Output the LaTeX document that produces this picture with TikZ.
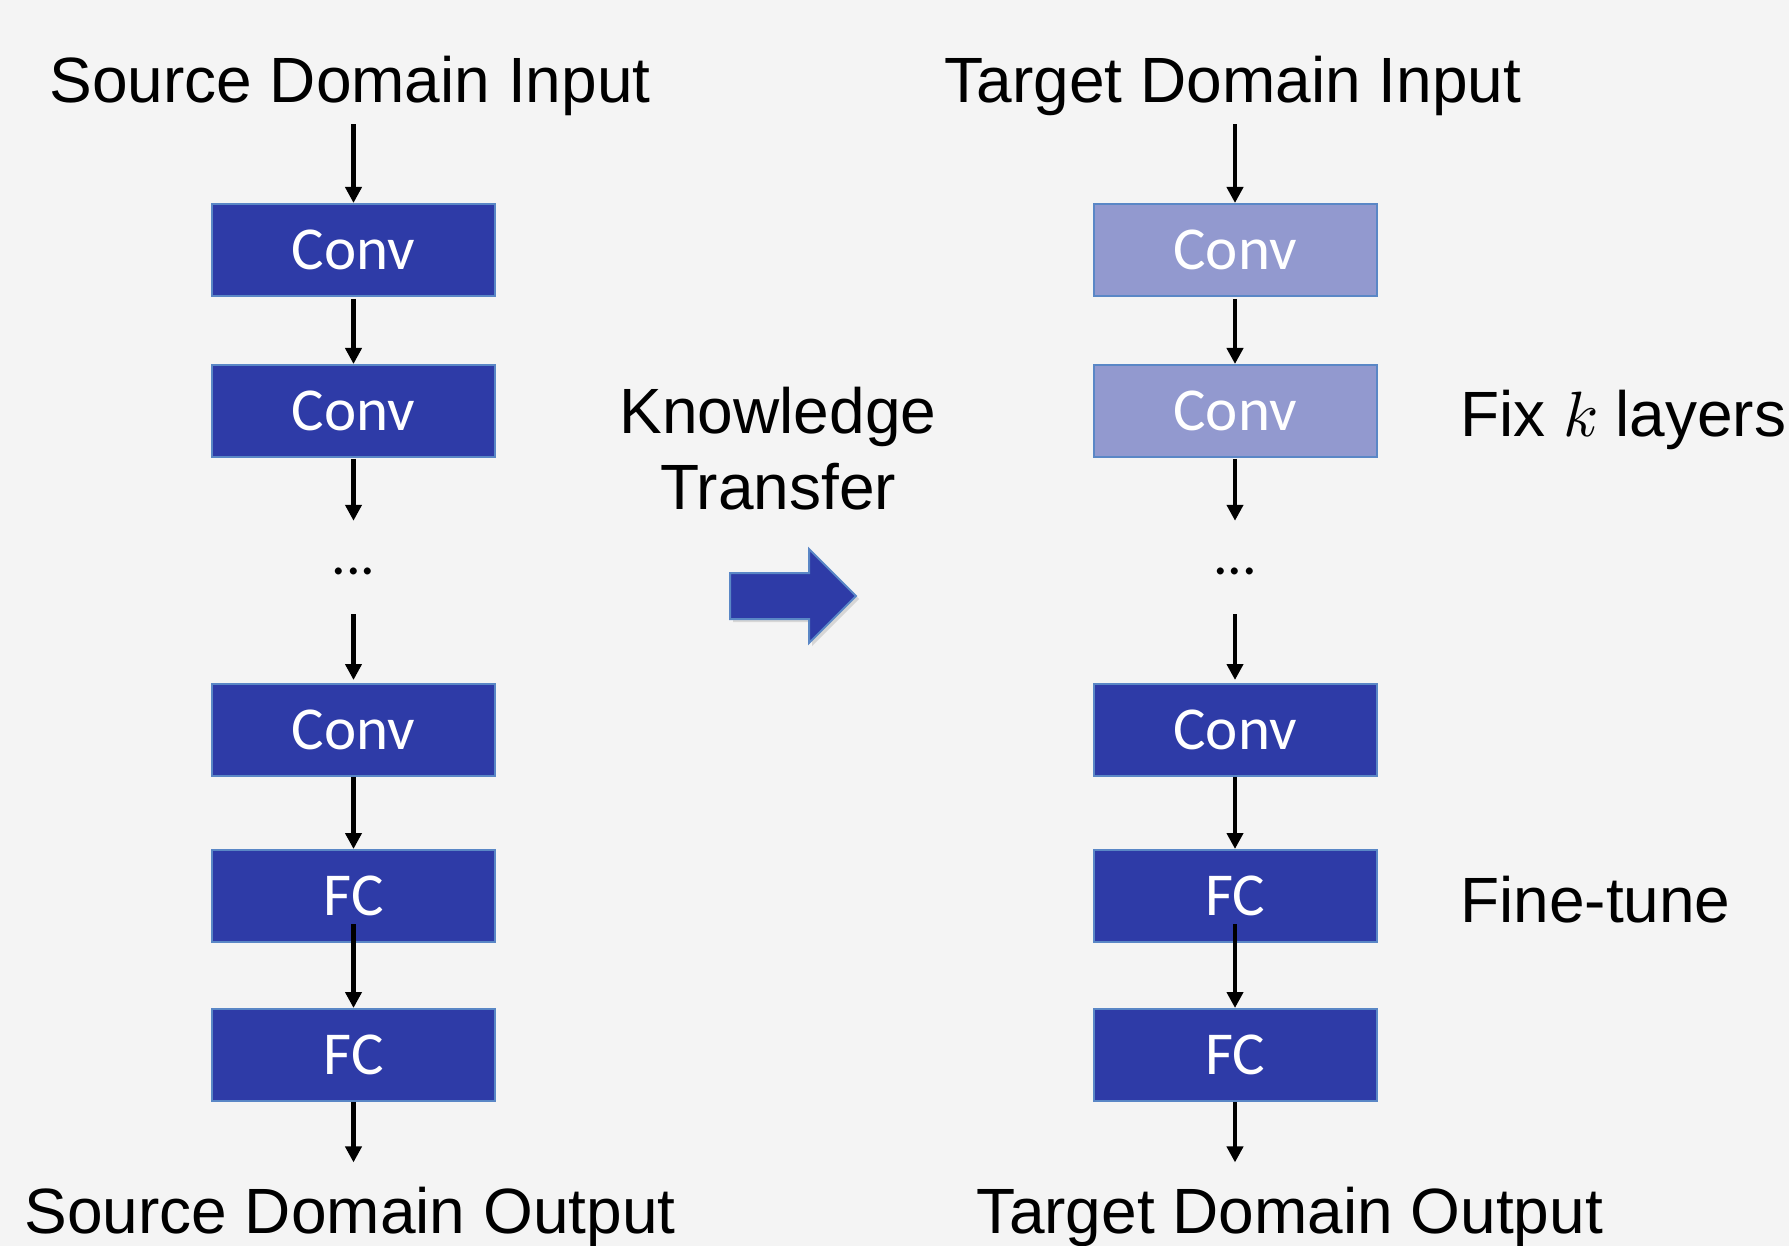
\documentclass[tikz,border=0pt]{standalone}
\usepackage{fontspec}
\usepackage{unicode-math}
\setmainfont{Liberation Sans}
\setmathfont{Latin Modern Math}
\newfontfamily\boxfont{Carlito}
\usetikzlibrary{arrows.meta,shadows}
\definecolor{bgc}{HTML}{F4F4F4}
\definecolor{layerfill}{HTML}{2E3BA7}
\definecolor{layeredge}{HTML}{5A87C6}
\definecolor{frozenfill}{HTML}{9299CF}

\begin{document}
\begin{tikzpicture}[x=1pt,y=-1pt,
  layer/.style={draw=layeredge, line width=2pt, fill=layerfill,
    minimum width=283pt, minimum height=92pt, inner sep=0pt,
    text=white, font=\boxfont\fontsize{61}{73}\selectfont},
  frozen/.style={layer, fill=frozenfill},
  caption/.style={inner sep=0pt, font=\fontsize{64}{76}\selectfont},
  gap/.style={inner sep=0pt, minimum height=93pt, text height=13pt, text depth=0pt,
    font=\boxfont\fontsize{58}{70}\selectfont},
  flow/.style={-{Triangle[length=16pt,width=16pt]}, line width=4.5pt},
]
\useasboundingbox (0,0) rectangle (1789,1246);
\fill[bgc] (0,0) rectangle (1789,1246);
\clip (0,0) rectangle (1789,1246);

% source network
\node[caption, anchor=base] (sin) at (350,103) {Source Domain Input};
\node[layer] (s1) at (353.5,250) {Conv};
\node[layer] (s2) at (353.5,411) {Conv};
\node[gap] (sd) at (353.5,567.5) {...};
\node[layer] (s3) at (353.5,730) {Conv};
\node[layer] (s4) at (353.5,896) {FC};
\node[layer] (s5) at (353.5,1055) {FC};
\node[caption, anchor=base] (sout) at (350,1233) {Source Domain Output};

% target network
\node[caption, anchor=base] (tin) at (1233,103) {Target Domain Input};
\node[frozen] (t1) at (1235,250) {Conv};
\node[frozen] (t2) at (1235,411) {Conv};
\node[gap] (td) at (1235,567.5) {...};
\node[layer] (t3) at (1235,730) {Conv};
\node[layer] (t4) at (1235,896) {FC};
\node[layer] (t5) at (1235,1055) {FC};
\node[caption, anchor=base] (tout) at (1290,1233) {Target Domain Output};

% annotations
\node[caption, align=center, anchor=north] (kt) at (778,387) {Knowledge\\Transfer};
\node[caption, anchor=base west] (fix) at (1460,437) {Fix $k$ layers};
\node[caption, anchor=base west] (ft) at (1460,922) {Fine-tune};

% transfer arrow
\draw[fill=layerfill, draw=layeredge, line width=2pt,
  drop shadow={opacity=0.25, shadow xshift=3pt, shadow yshift=-3pt}]
  (730,573) -- (809,573) -- (809,549) -- (856,596) -- (809,643)
  -- (809,619) -- (730,619) -- cycle;

% data flow
\foreach \c in {s,t}{
  \draw[flow, shorten <=8pt] (\c in.south -| \c1.north) -- (\c1.north);
  \draw[flow, shorten <=2pt] (\c1.south) -- (\c2.north);
  \draw[flow, shorten <=1pt] (\c2.south) -- (\c d.north);
  \draw[flow, shorten >=3pt] (\c d.south) -- (\c3.north);
  \draw[flow] (\c3.south) -- (\c4.north);
  \draw[flow] ([yshift=19pt]\c4.south) -- (\c5.north);
  \draw[flow, shorten >=24pt] (\c5.south) -- (\c out.north -| \c5.south);
}
\end{tikzpicture}
\end{document}
